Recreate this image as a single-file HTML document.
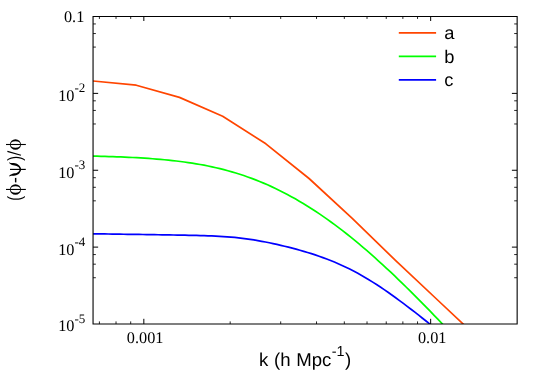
<!DOCTYPE html>
<html><head><meta charset="utf-8"><title>plot</title>
<style>
html,body{margin:0;padding:0;background:#fff;}
body{width:540px;height:378px;overflow:hidden;}
svg{display:block;}
text{filter:grayscale(1);text-rendering:geometricPrecision;}
text{fill:#000;}
.se{font-family:"Liberation Serif",serif;font-size:16.25px;}
.sa{font-family:"Liberation Sans",sans-serif;font-size:18.3px;}
.xt{font-size:18.6px;}
.sy{font-family:"Liberation Serif",serif;font-size:21.5px;}
</style></head><body>
<svg width="540" height="378" viewBox="0 0 540 378">
<rect width="540" height="378" fill="#fff"/>
<defs><clipPath id="c"><rect x="93.05" y="16.50" width="423.95" height="307.50"/></clipPath></defs>
<g fill="none" stroke-width="1.7" stroke-linejoin="round" clip-path="url(#c)">
<path d="M93.05 81.00 L136.25 85.20 L179.45 97.40 L222.65 116.30 L265.85 143.80 L309.05 178.50 L352.25 218.30 L395.45 260.40 L438.65 301.00 L481.85 341.60" stroke="#ff4500"/>
<path d="M93.05 156.13 L97.02 156.22 L100.98 156.32 L104.95 156.43 L108.91 156.55 L112.88 156.68 L116.84 156.82 L120.81 156.97 L124.78 157.14 L128.74 157.31 L132.71 157.51 L136.67 157.71 L140.64 157.94 L144.60 158.18 L148.57 158.45 L152.54 158.73 L156.50 159.04 L160.47 159.38 L164.43 159.73 L168.40 160.12 L172.36 160.54 L176.33 160.99 L180.30 161.47 L184.26 161.99 L188.23 162.55 L192.19 163.15 L196.16 163.79 L200.12 164.48 L204.09 165.21 L208.06 165.99 L212.02 166.82 L215.99 167.71 L219.95 168.65 L223.92 169.65 L227.88 170.71 L231.85 171.83 L235.82 173.01 L239.78 174.25 L243.75 175.56 L247.71 176.93 L251.68 178.37 L255.64 179.88 L259.61 181.46 L263.58 183.11 L267.54 184.83 L271.51 186.62 L275.47 188.48 L279.44 190.41 L283.41 192.41 L287.37 194.49 L291.34 196.64 L295.30 198.85 L299.27 201.14 L303.23 203.50 L307.20 205.94 L311.17 208.44 L315.13 211.01 L319.10 213.65 L323.06 216.37 L327.03 219.14 L330.99 221.99 L334.96 224.91 L338.93 227.88 L342.89 230.93 L346.86 234.04 L350.82 237.21 L354.79 240.44 L358.75 243.72 L362.72 247.07 L366.69 250.47 L370.65 253.93 L374.62 257.44 L378.58 261.01 L382.55 264.62 L386.51 268.28 L390.48 271.99 L394.45 275.74 L398.41 279.53 L402.38 283.37 L406.34 287.24 L410.31 291.15 L414.27 295.10 L418.24 299.08 L422.21 303.09 L426.17 307.14 L430.14 311.21 L434.10 315.31 L438.07 319.44 L442.03 323.60 L446.00 327.77" stroke="#00ff00"/>
<path d="M93.05 233.81 L96.88 233.86 L100.71 233.91 L104.54 233.97 L108.37 234.02 L112.20 234.08 L116.04 234.13 L119.87 234.18 L123.70 234.24 L127.53 234.29 L131.36 234.35 L135.19 234.40 L139.02 234.46 L142.85 234.51 L146.68 234.57 L150.51 234.63 L154.34 234.68 L158.18 234.74 L162.01 234.80 L165.84 234.86 L169.67 234.92 L173.50 234.99 L177.33 235.05 L181.16 235.12 L184.99 235.20 L188.82 235.28 L192.65 235.36 L196.48 235.46 L200.32 235.56 L204.15 235.67 L207.98 235.80 L211.81 235.95 L215.64 236.12 L219.47 236.32 L223.30 236.55 L227.13 236.81 L230.96 237.11 L234.79 237.46 L238.62 237.86 L242.46 238.30 L246.29 238.80 L250.12 239.35 L253.95 239.95 L257.78 240.60 L261.61 241.29 L265.44 242.02 L269.27 242.79 L273.10 243.60 L276.93 244.45 L280.76 245.32 L284.59 246.24 L288.43 247.18 L292.26 248.16 L296.09 249.18 L299.92 250.24 L303.75 251.34 L307.58 252.48 L311.41 253.67 L315.24 254.92 L319.07 256.22 L322.90 257.58 L326.73 259.00 L330.57 260.49 L334.40 262.06 L338.23 263.70 L342.06 265.42 L345.89 267.22 L349.72 269.10 L353.55 271.06 L357.38 273.11 L361.21 275.24 L365.04 277.45 L368.87 279.75 L372.71 282.12 L376.54 284.56 L380.37 287.08 L384.20 289.66 L388.03 292.30 L391.86 295.00 L395.69 297.76 L399.52 300.57 L403.35 303.42 L407.18 306.31 L411.01 309.24 L414.85 312.20 L418.68 315.19 L422.51 318.21 L426.34 321.25 L430.17 324.32 L434.00 327.40" stroke="#0000ff"/>
</g>
<g fill="none" stroke-width="1.7">
<path d="M398.8 32.8H436.1" stroke="#ff4500"/>
<path d="M398.8 56.35H436.1" stroke="#00ff00"/>
<path d="M398.8 79.85H436.1" stroke="#0000ff"/>
</g>
<g stroke="#000" fill="none">
<path d="M99.40 324.00 v-2.60 M99.40 16.50 v2.45" stroke-width="0.85"/>
<path d="M116.03 324.00 v-2.60 M116.03 16.50 v2.45" stroke-width="0.85"/>
<path d="M130.70 324.00 v-2.60 M130.70 16.50 v2.45" stroke-width="0.85"/>
<path d="M230.18 324.00 v-2.60 M230.18 16.50 v2.45" stroke-width="0.85"/>
<path d="M280.69 324.00 v-2.60 M280.69 16.50 v2.45" stroke-width="0.85"/>
<path d="M316.52 324.00 v-2.60 M316.52 16.50 v2.45" stroke-width="0.85"/>
<path d="M344.32 324.00 v-2.60 M344.32 16.50 v2.45" stroke-width="0.85"/>
<path d="M367.03 324.00 v-2.60 M367.03 16.50 v2.45" stroke-width="0.85"/>
<path d="M386.24 324.00 v-2.60 M386.24 16.50 v2.45" stroke-width="0.85"/>
<path d="M402.87 324.00 v-2.60 M402.87 16.50 v2.45" stroke-width="0.85"/>
<path d="M417.54 324.00 v-2.60 M417.54 16.50 v2.45" stroke-width="0.85"/>
<path d="M143.83 324.00 v-5.20 M143.83 16.50 v4.50" stroke-width="1.00"/>
<path d="M430.67 324.00 v-5.20 M430.67 16.50 v4.50" stroke-width="1.00"/>
<path d="M93.05 23.95 h2.80 M517.00 23.95 h-2.80" stroke-width="0.85"/>
<path d="M93.05 33.55 h2.80 M517.00 33.55 h-2.80" stroke-width="0.85"/>
<path d="M93.05 47.09 h2.80 M517.00 47.09 h-2.80" stroke-width="0.85"/>
<path d="M93.05 100.82 h2.80 M517.00 100.82 h-2.80" stroke-width="0.85"/>
<path d="M93.05 110.43 h2.80 M517.00 110.43 h-2.80" stroke-width="0.85"/>
<path d="M93.05 123.97 h2.80 M517.00 123.97 h-2.80" stroke-width="0.85"/>
<path d="M93.05 177.70 h2.80 M517.00 177.70 h-2.80" stroke-width="0.85"/>
<path d="M93.05 187.30 h2.80 M517.00 187.30 h-2.80" stroke-width="0.85"/>
<path d="M93.05 200.84 h2.80 M517.00 200.84 h-2.80" stroke-width="0.85"/>
<path d="M93.05 254.57 h2.80 M517.00 254.57 h-2.80" stroke-width="0.85"/>
<path d="M93.05 264.18 h2.80 M517.00 264.18 h-2.80" stroke-width="0.85"/>
<path d="M93.05 277.72 h2.80 M517.00 277.72 h-2.80" stroke-width="0.85"/>
<path d="M93.05 93.38 h5.10 M517.00 93.38 h-5.10" stroke-width="1.00"/>
<path d="M93.05 170.25 h5.10 M517.00 170.25 h-5.10" stroke-width="1.00"/>
<path d="M93.05 247.12 h5.10 M517.00 247.12 h-5.10" stroke-width="1.00"/>
<path stroke-width="1.1" stroke-linecap="square" d="M93.05 16.50H517.15V324.00H93.05V16.50"/>
</g>
<g class="sa">
<text x="444.25" y="39.1">a</text>
<text x="444.25" y="62.6">b</text>
<text x="444.25" y="86.1">c</text>
<text class="xt" x="258.95" y="365.9" word-spacing="0.55">k (h Mpc<tspan font-size="14.4px" dy="-9.7" dx="0.5">-1</tspan><tspan dy="9.7" dx="0.4">)</tspan></text>
</g>
<g class="se">
<text x="63.95" y="21.75">0.1</text>
<text x="58.2" y="100.85">10<tspan font-size="13.00px" dy="-9.30">-2</tspan></text>
<text x="58.2" y="177.85">10<tspan font-size="13.00px" dy="-9.30">-3</tspan></text>
<text x="58.2" y="254.85">10<tspan font-size="13.00px" dy="-9.30">-4</tspan></text>
<text x="58.2" y="331.10">10<tspan font-size="13.00px" dy="-8.50">-5</tspan></text>
<text x="145.15" y="342.7" text-anchor="middle">0.001</text>
<text x="432.2" y="342.7" text-anchor="middle">0.01</text>
</g>
<g transform="translate(20.5 200.9) rotate(-90)" class="sa" aria-label="(ϕ-ψ)/ϕ">
<text transform="translate(0.22 0.49) scale(0.8 1.044)" x="0" y="0">(</text>
<text transform="translate(40.07 0.49) scale(0.8 1.044)" x="0" y="0">)</text>
</g>
<g fill="none" stroke="#000">
<path stroke-width="1.45" d="M15.65 182.4V177.9"/>
<path stroke-width="1.3" d="M7.4 151.35L20.95 155.25"/>
</g>
<g id="phi">
<path fill="#000" fill-rule="evenodd" d="M9.97 144.55a5.5 5.25 0 1 0 11 0a5.5 5.25 0 1 0 -11 0zM10.77 144.55a4.7 3.3 0 1 1 9.4 0a4.7 3.3 0 1 1 -9.4 0z"/>
<path stroke="#000" stroke-width="1.1" d="M6 144.5H25.85" fill="none"/>
</g>
<use href="#phi" y="44.95"/>
<g fill="none" stroke="#000">
<path stroke-width="1.15" d="M10 169.4H25.8"/>
<path stroke="none" fill="#000" d="M9.56 162.33C9.75 162.31 9.94 162.77 10.44 162.89C10.94 163.01 11.79 162.99 12.56 163.06C13.32 163.12 14.27 163.13 15.06 163.28C15.84 163.43 16.58 163.59 17.28 163.94C17.97 164.30 18.67 164.81 19.22 165.39C19.78 165.97 20.30 166.78 20.61 167.44C20.93 168.11 21.11 168.74 21.11 169.39C21.11 170.04 20.93 170.69 20.61 171.36C20.30 172.03 19.78 172.83 19.22 173.41C18.67 173.99 17.97 174.50 17.28 174.86C16.58 175.21 15.84 175.37 15.06 175.52C14.27 175.67 13.32 175.68 12.56 175.74C11.79 175.81 10.94 175.79 10.44 175.91C9.94 176.03 9.75 176.49 9.56 176.47C9.36 176.45 9.15 176.08 9.28 175.80C9.41 175.52 9.88 175.11 10.33 174.80C10.79 174.49 11.31 174.15 12.00 173.91C12.69 173.67 13.74 173.52 14.50 173.36C15.26 173.19 15.95 173.13 16.56 172.91C17.16 172.69 17.68 172.37 18.11 172.02C18.55 171.67 18.93 171.24 19.17 170.80C19.41 170.36 19.56 169.88 19.56 169.41C19.56 168.94 19.41 168.44 19.17 168.00C18.93 167.56 18.55 167.13 18.11 166.78C17.68 166.43 17.16 166.11 16.56 165.89C15.95 165.67 15.26 165.61 14.50 165.44C13.74 165.28 12.69 165.13 12.00 164.89C11.31 164.65 10.79 164.31 10.33 164.00C9.88 163.69 9.41 163.28 9.28 163.00C9.15 162.72 9.36 162.35 9.56 162.33Z"/>
</g>
</svg>
</body></html>
